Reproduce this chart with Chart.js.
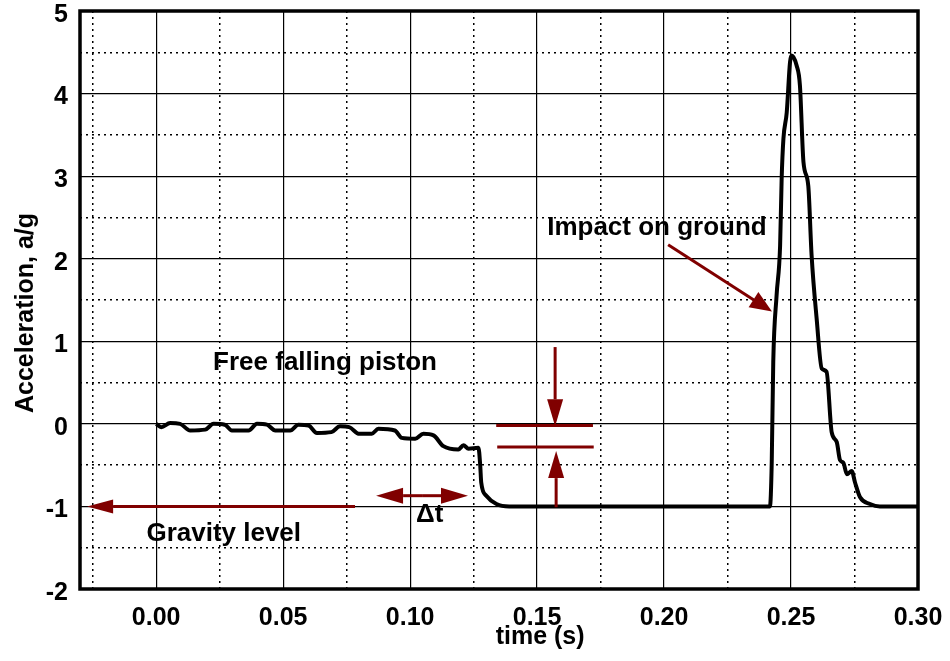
<!DOCTYPE html>
<html>
<head>
<meta charset="utf-8">
<title>Acceleration, a/g</title>
<script src="https://cdn.jsdelivr.net/npm/chart.js@4.4.1/dist/chart.umd.min.js"></script>
<style>
  html, body { margin: 0; padding: 0; background: #fff; }
  #wrap { width: 950px; height: 661px; }
</style>
</head>
<body>
<div id="wrap"><canvas id="chartAcc" width="950" height="661"></canvas></div>
<script>
// piston trace: time (s) and acceleration (a/g)
const tiempo = [
  0.000, 0.002, 0.0055, 0.0094, 0.0134, 0.0193, 0.0226, 0.027, 0.0298, 0.0364,
  0.0397, 0.0436, 0.0469, 0.0528, 0.056, 0.060, 0.0633, 0.069, 0.0724, 0.076,
  0.080, 0.0849, 0.0875, 0.094, 0.0967, 0.102, 0.1052, 0.1092, 0.1131, 0.119,
  0.121, 0.123, 0.1269, 0.1276, 0.128, 0.130, 0.134, 0.139, 0.2417, 0.2424,
  0.243, 0.2443, 0.2457, 0.2463, 0.247, 0.2483, 0.2496, 0.2502, 0.2522, 0.2535,
  0.2549, 0.2568, 0.2581, 0.2601, 0.2621, 0.264, 0.266, 0.268, 0.2693, 0.2706,
  0.272, 0.2739, 0.2752, 0.2772, 0.2811, 0.285, 0.300
];
const aceleracion = [
  0.00, -0.04, 0.01, 0.00, -0.08, -0.07, 0.00, -0.01, -0.08, -0.08,
  0.00, -0.01, -0.08, -0.08, -0.01, -0.02, -0.11, -0.10, -0.03, -0.04,
  -0.12, -0.12, -0.06, -0.08, -0.17, -0.18, -0.12, -0.14, -0.27, -0.31,
  -0.26, -0.30, -0.29, -0.50, -0.71, -0.87, -0.97, -1.00, -1.00, -0.47,
  0.75, 1.55, 2.16, 2.96, 3.45, 3.77, 4.38, 4.46, 4.34, 4.10,
  3.17, 2.88, 2.04, 1.27, 0.67, 0.63, -0.10, -0.22, -0.44, -0.47,
  -0.61, -0.57, -0.71, -0.89, -0.97, -1.00, -1.00
];

// grid positions: labelled every 0.05 s / 1 g, dotted halfway between
const xTicks = [-0.025, 0, 0.025, 0.05, 0.075, 0.1, 0.125, 0.15, 0.175, 0.2, 0.225, 0.25, 0.275, 0.3];
const xLabels = ['', '0.00', '', '0.05', '', '0.10', '', '0.15', '', '0.20', '', '0.25', '', '0.30'];
const yTicks = [-2, -1.5, -1, -0.5, 0, 0.5, 1, 1.5, 2, 2.5, 3, 3.5, 4, 4.5, 5];
const yLabels = ['-2', '', '-1', '', '0', '', '1', '', '2', '', '3', '', '4', '', '5'];

const ROJO = '#800000';
const FUENTE = '"Liberation Sans", Arial, Helvetica, sans-serif';

// red arrows, head at "to"
const flechas = [
  { from: [0.2016, 2.17], to: [0.2425, 1.36], len: 22, half: 9 },
  { from: [0.0783, -1.0], to: [-0.0272, -1.0], len: 26, half: 7 },
  { from: [0.1047, -0.87], to: [0.0866, -0.87], len: 27, half: 8 },
  { from: [0.1047, -0.87], to: [0.1228, -0.87], len: 27, half: 8 },
  { from: [0.1571, 0.93], to: [0.1571, -0.03], len: 27, half: 8 },
  { from: [0.1575, -1.01], to: [0.1575, -0.33], len: 27, half: 8 }
];
const marcas = [
  { from: [0.1339, -0.02], to: [0.1720, -0.02] },
  { from: [0.1343, -0.28], to: [0.1723, -0.28] }
];
const notas = [
  { text: 'Free falling piston', x: 0.0665, y: 0.745 },
  { text: 'Impact on ground', x: 0.1972, y: 2.37 },
  { text: 'Gravity level', x: 0.0266, y: -1.326 },
  { text: 'Δt', x: 0.1077, y: -1.096 }
];

const esMayor = v => Math.abs(v * 20 - Math.round(v * 20)) < 1e-6;
const esEntero = v => Math.abs(v - Math.round(v)) < 1e-6;

function dibujarFlecha(ctx, x1, y1, x2, y2, len, half) {
  const ang = Math.atan2(y2 - y1, x2 - x1);
  const bx = x2 - len * Math.cos(ang), by = y2 - len * Math.sin(ang);
  ctx.beginPath();
  ctx.moveTo(x1, y1);
  ctx.lineTo(bx, by);
  ctx.stroke();
  ctx.beginPath();
  ctx.moveTo(x2, y2);
  ctx.lineTo(bx + half * Math.sin(ang), by - half * Math.cos(ang));
  ctx.lineTo(bx - half * Math.sin(ang), by + half * Math.cos(ang));
  ctx.closePath();
  ctx.fill();
}

const anotaciones = {
  id: 'anotaciones',
  beforeDatasetsDraw(chart) {
    // heavy frame around the plot
    const { ctx, chartArea: a } = chart;
    ctx.save();
    ctx.strokeStyle = '#000';
    ctx.lineWidth = 3.5;
    ctx.strokeRect(a.left, a.top, a.right - a.left, a.bottom - a.top);
    ctx.restore();
  },
  afterDatasetsDraw(chart) {
    const { ctx, chartArea: a } = chart;
    const sx = chart.scales.x, sy = chart.scales.y;
    const px = p => [sx.getPixelForValue(p[0]), sy.getPixelForValue(p[1])];
    ctx.save();
    ctx.strokeStyle = ROJO;
    ctx.fillStyle = ROJO;
    ctx.lineWidth = 3;
    flechas.forEach(f => {
      const [x1, y1] = px(f.from), [x2, y2] = px(f.to);
      dibujarFlecha(ctx, x1, y1, x2, y2, f.len, f.half);
    });
    marcas.forEach(m => {
      const [x1, y1] = px(m.from), [x2, y2] = px(m.to);
      ctx.beginPath();
      ctx.moveTo(x1, y1);
      ctx.lineTo(x2, y2);
      ctx.stroke();
    });

    ctx.fillStyle = '#000';
    ctx.font = 'bold 26px ' + FUENTE;
    ctx.textAlign = 'center';
    ctx.textBaseline = 'middle';
    notas.forEach(n => {
      const [x, y] = px([n.x, n.y]);
      ctx.fillText(n.text, x, y);
    });

    // axis titles
    ctx.font = 'bold 25px ' + FUENTE;
    ctx.fillText('time (s)', sx.getPixelForValue(0.1512), a.bottom + 48);
    ctx.translate(26, (a.top + a.bottom) / 2 + 13);
    ctx.rotate(-Math.PI / 2);
    ctx.fillText('Acceleration, a/g', 0, 0);
    ctx.restore();
  }
};

const puntos = tiempo.map((t, i) => ({ x: t, y: aceleracion[i] }));

new Chart(document.getElementById('chartAcc'), {
  type: 'line',
  data: {
    datasets: [{
      data: puntos,
      borderColor: '#000',
      borderWidth: 4,
      pointRadius: 0,
      cubicInterpolationMode: 'monotone',
      fill: false
    }]
  },
  options: {
    responsive: false,
    animation: false,
    layout: { padding: { top: 11, right: 32, left: 0, bottom: 0 } },
    plugins: { legend: { display: false }, tooltip: { enabled: false } },
    scales: {
      x: {
        type: 'linear',
        min: -0.03,
        max: 0.3,
        afterBuildTicks: s => { s.ticks = xTicks.map(v => ({ value: v })); },
        afterFit: s => { s.height = 72; s.paddingLeft = 0; s.paddingRight = 0; },
        ticks: {
          autoSkip: false,
          maxRotation: 0,
          padding: 14,
          color: '#000',
          font: { family: FUENTE, size: 25, weight: 'bold' },
          callback: (v, i) => xLabels[i]
        },
        grid: {
          color: '#000',
          drawTicks: false,
          lineWidth: c => (c.tick && esMayor(c.tick.value)) ? 1.2 : 1.5
        },
        border: {
          display: false,
          dash: c => (c.tick && !esMayor(c.tick.value)) ? [2, 4] : []
        }
      },
      y: {
        type: 'linear',
        min: -2,
        max: 5,
        afterBuildTicks: s => { s.ticks = yTicks.map(v => ({ value: v })); },
        afterFit: s => { s.width = 80; s.paddingTop = 0; s.paddingBottom = 0; },
        ticks: {
          autoSkip: false,
          padding: 12,
          labelOffset: 4,
          color: '#000',
          font: { family: FUENTE, size: 25, weight: 'bold' },
          callback: (v, i) => yLabels[i]
        },
        grid: {
          color: '#000',
          drawTicks: false,
          lineWidth: c => (c.tick && esEntero(c.tick.value)) ? 1.2 : 1.5
        },
        border: {
          display: false,
          dash: c => (c.tick && !esEntero(c.tick.value)) ? [2, 4] : []
        }
      }
    }
  },
  plugins: [anotaciones]
});
</script>
</body>
</html>
